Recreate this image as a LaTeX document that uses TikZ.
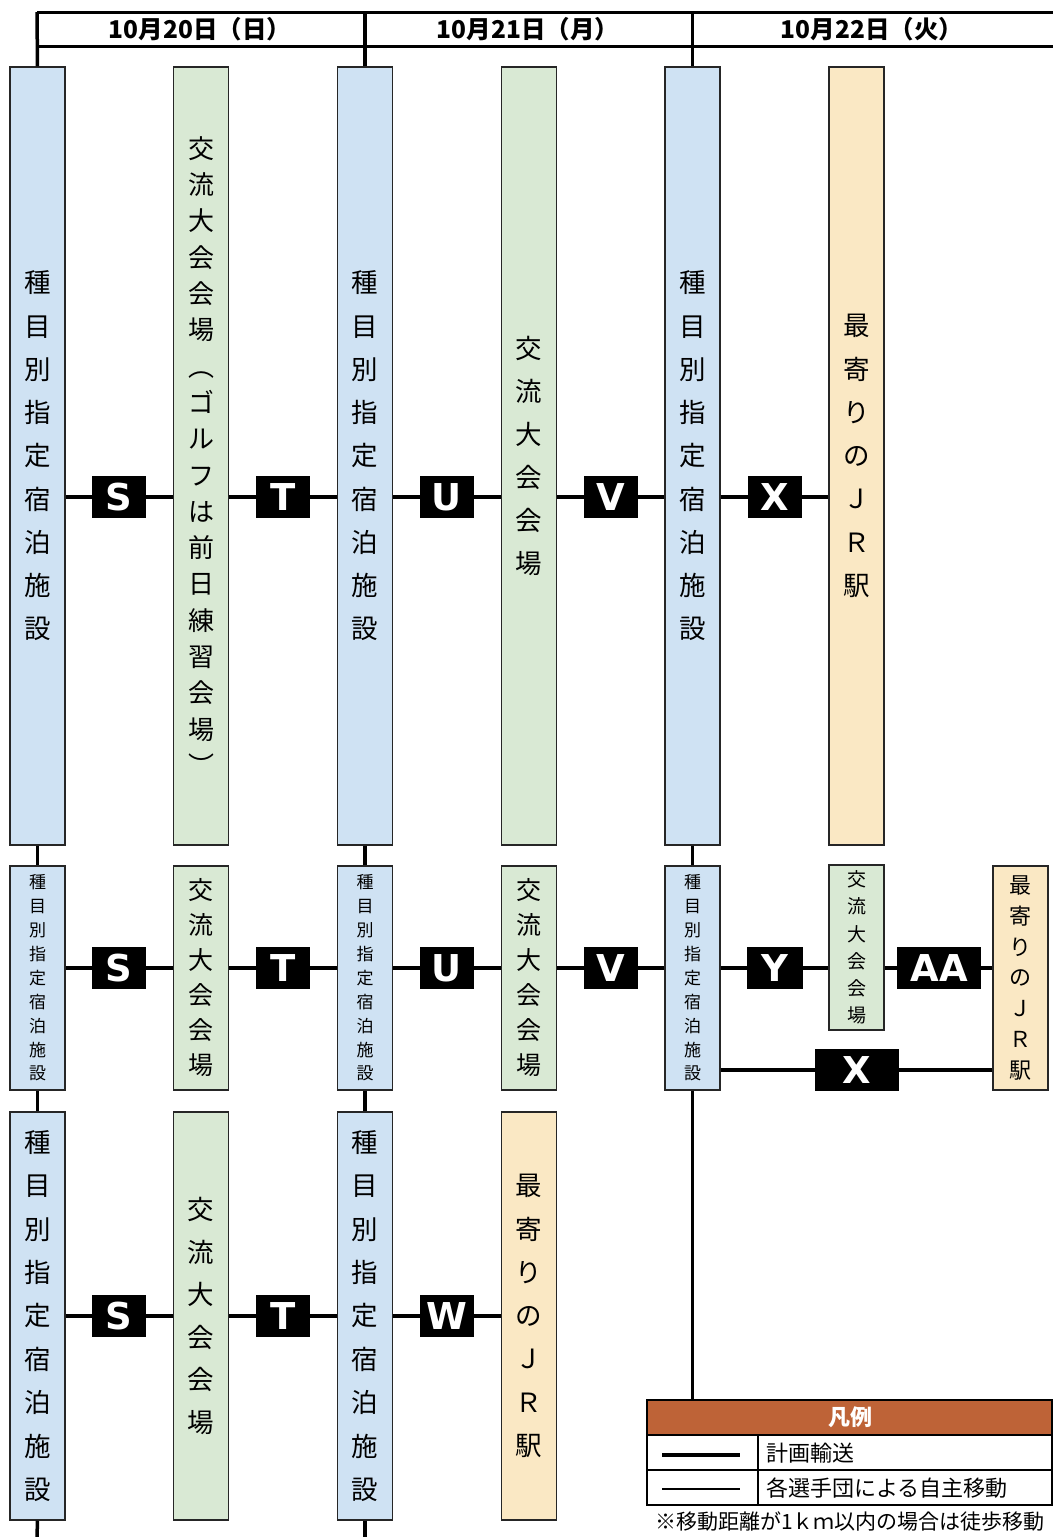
\documentclass[tikz,border=0pt]{standalone}
\usepackage{fontspec}
\setmainfont{Noto Sans CJK JP}
\newfontfamily\lblfont{DejaVu Sans}
\definecolor{cblue}{RGB}{207,226,243}
\definecolor{cgreen}{RGB}{217,233,212}
\definecolor{cpeach}{RGB}{250,232,196}
\definecolor{cbrown}{RGB}{190,99,55}
\begin{document}
\begin{tikzpicture}[x=1pt,y=-1pt,
  place/.style={draw=black!85, line width=1.4pt, inner sep=0pt, minimum width=55pt, align=center},
  hotel/.style={place, fill=cblue},
  venue/.style={place, fill=cgreen},
  station/.style={place, fill=cpeach},
  rowA/.style={minimum height=778pt},
  rowB/.style={minimum height=224pt},
  rowC/.style={minimum height=408pt},
  lab/.style={fill=black, text=white, font=\lblfont\bfseries\fontsize{37}{37}\selectfont, minimum width=54pt, minimum height=42pt, inner sep=0pt},
  labwide/.style={lab, minimum width=84pt},
  plan/.style={line width=3.5pt},
  hdr/.style={font=\bfseries\fontsize{24.5}{24.5}\selectfont, inner sep=0pt},
  legtext/.style={font=\fontsize{22}{22}\selectfont, inner sep=0pt}
]
\useasboundingbox (0,0) rectangle (1053,1537);
\def\bigf{\fontsize{26.5}{43.25}\selectfont}
% ---------- row 1 ----------
\node[hotel,rowA,font=\bigf] (r1c1) at (37.5,456) {種\\目\\別\\指\\定\\宿\\泊\\施\\設};
\node[venue,rowA,font=\fontsize{26}{36.3}\selectfont] (r1c2) at (201,456) {交\\流\\大\\会\\会\\場\\︵\\ゴ\\ル\\フ\\は\\前\\日\\練\\習\\会\\場\\︶};
\node[hotel,rowA,font=\bigf] (r1c3) at (365,456) {種\\目\\別\\指\\定\\宿\\泊\\施\\設};
\node[venue,rowA,font=\fontsize{26.5}{43}\selectfont] (r1c4) at (529,456) {交\\流\\大\\会\\会\\場};
\node[hotel,rowA,font=\bigf] (r1c5) at (692.5,456) {種\\目\\別\\指\\定\\宿\\泊\\施\\設};
\node[station,rowA,font=\fontsize{26.5}{43.3}\selectfont] (r1c6) at (856.5,456) {最\\寄\\り\\の\\Ｊ\\Ｒ\\駅};
% ---------- row 2 ----------
\node[hotel,rowB,font=\fontsize{17}{23.9}\selectfont] (r2c1) at (37.5,978) {種\\目\\別\\指\\定\\宿\\泊\\施\\設};
\node[venue,rowB,font=\fontsize{25}{35}\selectfont] (r2c2) at (201,978) {交\\流\\大\\会\\会\\場};
\node[hotel,rowB,font=\fontsize{17}{23.9}\selectfont] (r2c3) at (365,978) {種\\目\\別\\指\\定\\宿\\泊\\施\\設};
\node[venue,rowB,font=\fontsize{25}{35}\selectfont] (r2c4) at (529,978) {交\\流\\大\\会\\会\\場};
\node[hotel,rowB,font=\fontsize{17}{23.9}\selectfont] (r2c5) at (692.5,978) {種\\目\\別\\指\\定\\宿\\泊\\施\\設};
\node[venue,minimum height=165pt,font=\fontsize{19}{27.2}\selectfont] (r2c6) at (856.5,947.5) {交\\流\\大\\会\\会\\場};
\node[station,rowB,font=\fontsize{22}{30.8}\selectfont] (r2c7) at (1020.5,978) {最\\寄\\り\\の\\Ｊ\\Ｒ\\駅};
% ---------- row 3 ----------
\node[hotel,rowC,font=\fontsize{26.5}{43.4}\selectfont] (r3c1) at (37.5,1316) {種\\目\\別\\指\\定\\宿\\泊\\施\\設};
\node[venue,rowC,font=\fontsize{26.5}{42.6}\selectfont] (r3c2) at (201,1316) {交\\流\\大\\会\\会\\場};
\node[hotel,rowC,font=\fontsize{26.5}{43.4}\selectfont] (r3c3) at (365,1316) {種\\目\\別\\指\\定\\宿\\泊\\施\\設};
\node[station,rowC,font=\fontsize{26.5}{43.3}\selectfont] (r3c4) at (529,1316) {最\\寄\\り\\の\\Ｊ\\Ｒ\\駅};
% ---------- labels ----------
\node[lab] (S1) at (119,497) {S};
\node[lab] (T1) at (283,497) {T};
\node[lab] (U1) at (447,497) {U};
\node[lab] (V1) at (611,497) {V};
\node[lab] (X1) at (775,497) {X};
\node[lab] (S2) at (119,968) {S};
\node[lab] (T2) at (283,968) {T};
\node[lab] (U2) at (447,968) {U};
\node[lab] (V2) at (611,968) {V};
\node[lab,minimum width=56pt] (Y2) at (775,968) {Y};
\node[labwide] (AA2) at (939,968) {AA};
\node[labwide] (X2) at (857,1070) {X};
\node[lab] (S3) at (119,1316) {S};
\node[lab] (T3) at (283,1316) {T};
\node[lab] (W3) at (447,1316) {W};
% ---------- connectors ----------
\foreach \a/\l/\b in {r1c1/S1/r1c2, r1c2/T1/r1c3, r1c3/U1/r1c4, r1c4/V1/r1c5, r1c5/X1/r1c6,
                      r2c1/S2/r2c2, r2c2/T2/r2c3, r2c3/U2/r2c4, r2c4/V2/r2c5, r2c5/Y2/r2c6, r2c6/AA2/r2c7, r2c5/X2/r2c7,
                      r3c1/S3/r3c2, r3c2/T3/r3c3, r3c3/W3/r3c4}{
  \draw[plan] (\a.east |- \l) -- (\l.west);
  \draw[plan] (\l.east) -- (\b.west |- \l);
}
% vertical links
\draw[plan] (r1c1.south) -- (r2c1.north);
\draw[plan] (r2c1.south) -- (r3c1.north);
\draw[plan] (r1c3.south) -- (r2c3.north);
\draw[plan] (r2c3.south) -- (r3c3.north);
\draw[plan] (r1c5.south) -- (r2c5.north);
\coordinate (b1) at (37,1537);
\coordinate (b3) at (365,1537);
\draw[plan] (r3c1.south) -- (b1);
\draw[plan] (r3c3.south) -- (b3);
% ---------- header ----------
\coordinate (hTL) at (37,12);
\coordinate (hTR) at (1053,12);
\coordinate (hBL) at (37,46);
\coordinate (hBR) at (1053,46);
\draw[line width=3pt] (hTL) -- (hTR);
\draw[line width=3pt] (hBL) -- (hBR);
\draw[plan] (hTL) -- (r1c1.north);
\draw[plan] (r1c3.north |- hTL) -- (r1c3.north);
\draw[plan] (r1c5.north |- hTL) -- (r1c5.north);
\node[hdr] (d1) at (200,29) {10月20日（日）};
\node[hdr] (d2) at (528,29) {10月21日（月）};
\node[hdr] (d3) at (872,29) {10月22日（火）};
% ---------- legend ----------
\coordinate (lgTL) at (647,1400);
\coordinate (lgTR) at (1052,1435);
\draw[line width=1.5pt, fill=cbrown] (lgTL) rectangle (lgTR);
\draw[line width=1.5pt] (647,1435) rectangle (1052,1505);
\draw[line width=1.5pt] (647,1470) -- (1052,1470);
\draw[line width=1.5pt] (758,1435) -- (758,1505);
\draw[plan] (r2c5.south) -- (r2c5.south |- lgTL);
\node[legtext, text=white, font=\bfseries\fontsize{22}{22}\selectfont] (lgH) at (850,1417) {凡例};
\coordinate (p1) at (662,1455);
\coordinate (p2) at (740,1455);
\coordinate (q1) at (662,1489);
\coordinate (q2) at (740,1489);
\draw[line width=4pt] (p1) -- (p2);
\draw[line width=1.2pt] (q1) -- (q2);
\node[legtext, anchor=west] (lg1) at (766,1453) {計画輸送};
\node[legtext, anchor=west] (lg2) at (766,1488) {各選手団による自主移動};
\node[legtext, font=\fontsize{21}{21}\selectfont] (note) at (850,1522) {※移動距離が1ｋｍ以内の場合は徒歩移動};
\end{tikzpicture}
\end{document}
